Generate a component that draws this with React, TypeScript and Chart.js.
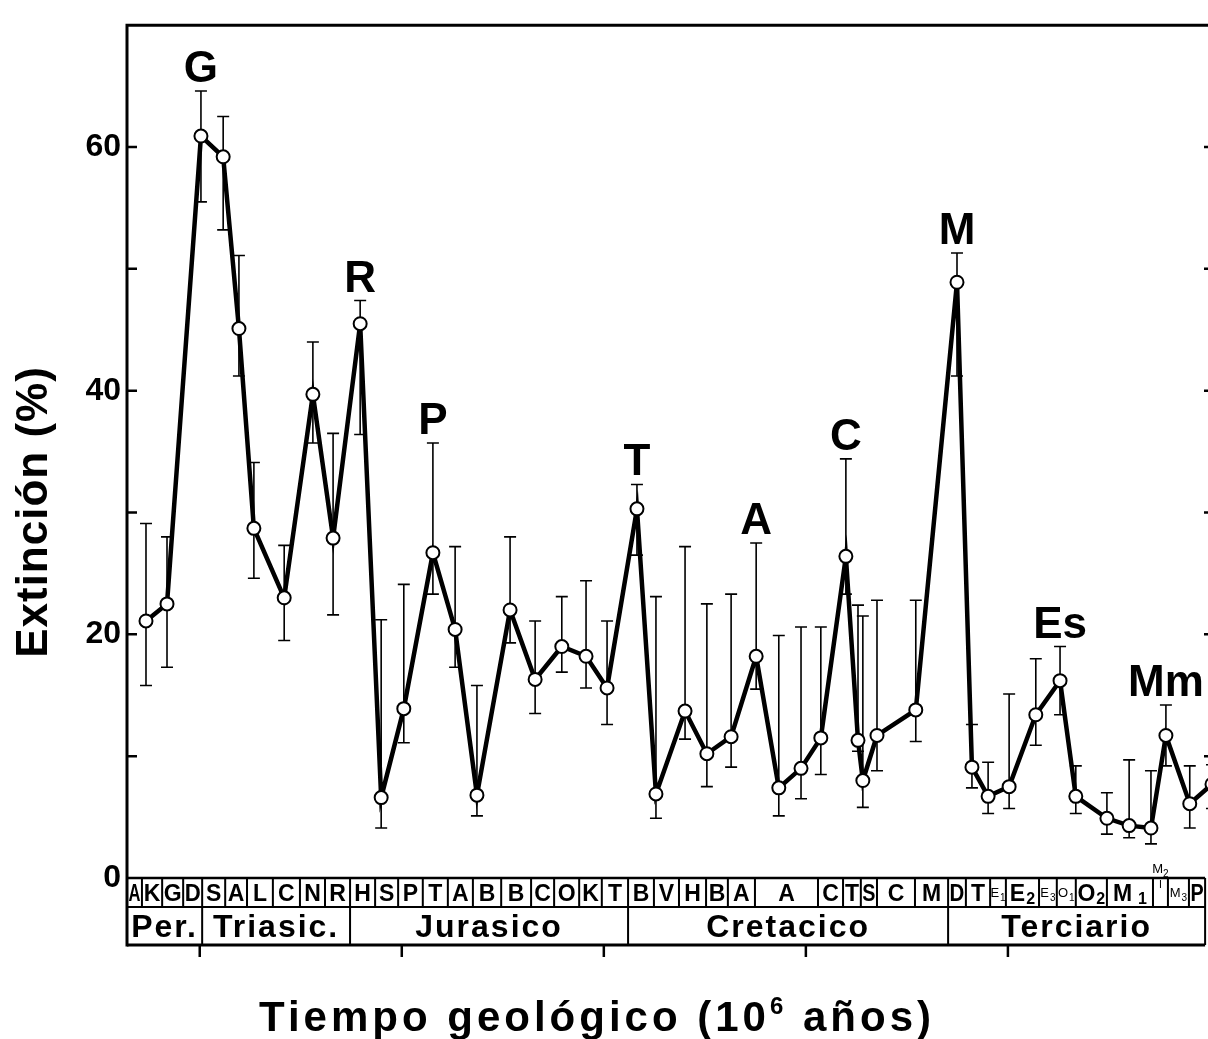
import React, { useEffect, useRef } from "react";
import { Chart, registerables } from "chart.js";

Chart.register(...registerables);

const FONT = '"Liberation Sans", Arial, Helvetica, sans-serif';

// Edad (millones de años) de cada punto
const ageMa = [263.3, 258.1, 249.7, 244.2, 240.3, 236.6, 229.1, 222.0, 217.0, 210.3, 205.1, 199.5, 192.3, 186.8, 181.4, 173.2, 167.0, 160.4, 154.4, 149.2, 141.8, 137.1, 129.9, 124.5, 118.5, 112.3, 106.7, 101.2, 96.3, 90.1, 87.1, 85.9, 82.4, 72.8, 62.6, 58.9, 54.9, 49.7, 43.1, 37.1, 33.2, 25.5, 20.0, 14.6, 10.9, 5.0, -0.5];
// Extinción (%)
const extincion = [21.1, 22.5, 60.9, 59.2, 45.1, 28.7, 23.0, 39.7, 27.9, 45.5, 6.6, 13.9, 26.7, 20.4, 6.8, 22.0, 16.3, 19.0, 18.2, 15.6, 30.3, 6.9, 13.7, 10.2, 11.6, 18.2, 7.4, 9.0, 11.5, 26.4, 11.3, 8.0, 11.7, 13.8, 48.9, 9.1, 6.7, 7.5, 13.4, 16.2, 6.7, 4.9, 4.3, 4.1, 11.7, 6.1, 7.7];
const errAlto = [29.1, 28.0, 64.6, 62.5, 51.1, 34.1, 27.3, 44.0, 36.5, 47.4, 21.2, 24.1, 35.7, 27.2, 15.8, 28.0, 21.1, 23.1, 24.4, 21.1, 32.3, 23.1, 27.2, 22.5, 23.3, 27.5, 19.9, 20.6, 20.6, 34.4, 22.4, 21.5, 22.8, 22.8, 51.3, 12.6, 9.5, 15.1, 18.0, 19.0, 9.2, 7.0, 9.7, 8.8, 14.2, 9.2, 9.3];
const errBajo = [15.8, 17.3, 55.5, 53.2, 41.2, 24.6, 19.5, 35.7, 21.6, 36.4, 4.1, 11.1, 23.3, 17.3, 5.1, 19.3, 13.5, 16.9, 15.6, 12.6, 26.5, 4.9, 11.4, 7.5, 9.1, 15.5, 5.1, 6.5, 8.5, 23.3, 10.4, 5.8, 8.8, 11.2, 41.2, 7.4, 5.3, 5.7, 10.9, 13.4, 5.3, 3.6, 3.3, 2.8, 9.2, 4.1, 5.7];

// Picos señalados
const peakIndex = [2, 9, 12, 20, 25, 29, 34, 39, 44];
const peakText = ["G", "R", "P", "T", "A", "C", "M", "Es", "Mm"];

// Pisos (límites en Ma) y sus letras
const stageBounds = [268, 264.3, 259.3, 254.1, 249.4, 243.7, 238.3, 231.9, 225.2, 219.0, 212.8, 206.6, 200.9, 194.8, 188.6, 182.4, 175.4, 168.0, 162.3, 156.1, 150.5, 144.0, 137.6, 131.4, 124.7, 119.3, 112.6, 97.0, 90.8, 86.4, 82.4, 73.0, 64.8, 60.4, 54.4, 50.5, 42.3, 37.9, 33.2, 25.5, 14.1, 10.4, 5.2, 1.2];
const stageLabels = ["A", "K", "G", "D", "S", "A", "L", "C", "N", "R", "H", "S", "P", "T", "A", "B", "B", "C", "O", "K", "T", "B", "V", "H", "B", "A", "A", "C", "T", "S", "C", "M", "D", "T", "E1", "E2", "E3", "O1", "O2", "M1", "M2", "M3", "P"];

// Periodos
const periodBounds = [268, 249.4, 212.8, 144.0, 64.8, 1.2];
const periodLabels = ["Per.", "Triasic.", "Jurasico", "Cretacico", "Terciario"];

// Marcas del eje de tiempo
const timeTicks = [250, 200, 150, 100, 50];
const yTickValues = [0, 10, 20, 30, 40, 50, 60];
const yLabelled = [0, 20, 40, 60];

function drawStageLabel(ctx: CanvasRenderingContext2D, label: string, x0: number, x1: number, yBase: number, rowTop: number) {
  const w = x1 - x0;
  const cx = (x0 + x1) / 2;
  const letter = label[0];
  const sub = label.slice(1);
  ctx.textBaseline = "alphabetic";
  ctx.textAlign = "left";
  if (!sub) {
    ctx.font = `bold 23px ${FONT}`;
    ctx.textAlign = "center";
    ctx.fillText(letter, cx, yBase, Math.max(w - 3, 6));
    return;
  }
  if (w < 15.2) {
    // etiqueta encima de la casilla
    ctx.font = `13px ${FONT}`;
    const w1 = ctx.measureText(letter).width;
    ctx.font = `10px ${FONT}`;
    const w2 = ctx.measureText(sub).width;
    const sx = cx - (w1 + w2) / 2;
    ctx.font = `13px ${FONT}`;
    ctx.fillText(letter, sx, rowTop - 5);
    ctx.font = `10px ${FONT}`;
    ctx.fillText(sub, sx + w1, rowTop - 1);
    ctx.save();
    ctx.lineWidth = 1;
    ctx.beginPath();
    ctx.moveTo(cx, rowTop + 2);
    ctx.lineTo(cx, rowTop + 10);
    ctx.stroke();
    ctx.restore();
    return;
  }
  const big = w >= 24;
  const f1 = big ? 23 : 13;
  const f2 = big ? 16 : 10;
  const gap = label === "M1" ? 6 : 1;
  ctx.font = `${big ? "bold " : ""}${f1}px ${FONT}`;
  const w1 = ctx.measureText(letter).width;
  ctx.font = `${f2}px ${FONT}`;
  const w2 = ctx.measureText(sub).width;
  const sx = cx - (w1 + gap + w2) / 2;
  ctx.font = `${big ? "bold " : ""}${f1}px ${FONT}`;
  ctx.fillText(letter, sx, big ? yBase : yBase - 4);
  ctx.font = `${big ? "bold " : ""}${f2}px ${FONT}`;
  ctx.fillText(sub, sx + w1 + gap, big ? yBase + 3 : yBase);
}

const decorPlugin = {
  id: "decor",
  beforeDatasetsDraw(chart: any) {
    const { ctx } = chart;
    const x = chart.scales.x;
    const y = chart.scales.y;
    ctx.save();
    ctx.strokeStyle = "#000";
    ctx.lineWidth = 1.6;
    ageMa.forEach((a, i) => {
      const px = x.getPixelForValue(a);
      const yt = y.getPixelForValue(errAlto[i]);
      const yb = y.getPixelForValue(errBajo[i]);
      ctx.beginPath();
      ctx.moveTo(px, yt);
      ctx.lineTo(px, yb);
      ctx.moveTo(px - 6, yt);
      ctx.lineTo(px + 6, yt);
      ctx.moveTo(px - 6, yb);
      ctx.lineTo(px + 6, yb);
      ctx.stroke();
    });
    ctx.restore();
  },
  afterDatasetsDraw(chart: any) {
    const { ctx } = chart;
    const x = chart.scales.x;
    const y = chart.scales.y;
    ctx.save();
    ctx.fillStyle = "#000";
    ctx.font = `bold 44px ${FONT}`;
    ctx.textAlign = "center";
    ctx.textBaseline = "alphabetic";
    peakIndex.forEach((idx, k) => {
      const px = x.getPixelForValue(ageMa[idx]);
      const py = y.getPixelForValue(errAlto[idx]) - 9;
      ctx.fillText(peakText[k], px, py);
    });
    ctx.restore();
  },
  afterDraw(chart: any) {
    const { ctx, chartArea: area } = chart;
    const x = chart.scales.x;
    const y = chart.scales.y;
    const row1Top = area.bottom;
    const row1Bottom = area.bottom + 29;
    const row2Bottom = area.bottom + 67;
    const rowEnd = x.getPixelForValue(stageBounds[stageBounds.length - 1]);
    ctx.save();
    ctx.strokeStyle = "#000";
    ctx.fillStyle = "#000";
    ctx.lineCap = "butt";

    // marco
    ctx.lineWidth = 3;
    ctx.beginPath();
    ctx.moveTo(area.left, area.top);
    ctx.lineTo(area.left, row2Bottom + 1.5);
    ctx.moveTo(area.left - 1.5, area.top);
    ctx.lineTo(area.right, area.top);
    ctx.moveTo(area.right, area.top);
    ctx.lineTo(area.right, row2Bottom);
    ctx.stroke();

    // marcas del eje Y hacia dentro
    ctx.lineWidth = 2.5;
    ctx.beginPath();
    yTickValues.forEach((v) => {
      if (v === 0) return;
      const py = y.getPixelForValue(v);
      ctx.moveTo(area.left, py);
      ctx.lineTo(area.left + 10, py);
      ctx.moveTo(area.right - 10, py);
      ctx.lineTo(area.right, py);
    });
    ctx.stroke();

    // filas de pisos y periodos
    ctx.lineWidth = 2.5;
    ctx.beginPath();
    ctx.moveTo(area.left, row1Top);
    ctx.lineTo(rowEnd, row1Top);
    ctx.stroke();
    ctx.lineWidth = 2;
    ctx.beginPath();
    ctx.moveTo(area.left, row1Bottom);
    ctx.lineTo(rowEnd, row1Bottom);
    ctx.stroke();
    ctx.lineWidth = 3;
    ctx.beginPath();
    ctx.moveTo(area.left, row2Bottom);
    ctx.lineTo(rowEnd, row2Bottom);
    ctx.stroke();

    ctx.lineWidth = 2;
    ctx.beginPath();
    stageBounds.forEach((b) => {
      const px = x.getPixelForValue(b);
      ctx.moveTo(px, row1Top);
      ctx.lineTo(px, row1Bottom);
    });
    periodBounds.forEach((b) => {
      const px = x.getPixelForValue(b);
      ctx.moveTo(px, row1Bottom);
      ctx.lineTo(px, row2Bottom);
    });
    ctx.stroke();

    // marcas del eje de tiempo
    ctx.lineWidth = 2.5;
    ctx.beginPath();
    timeTicks.forEach((t) => {
      const px = x.getPixelForValue(t);
      ctx.moveTo(px, row2Bottom);
      ctx.lineTo(px, row2Bottom + 12);
    });
    ctx.stroke();

    // letras de pisos
    stageLabels.forEach((lab, i) => {
      const x0 = x.getPixelForValue(stageBounds[i]);
      const x1 = x.getPixelForValue(stageBounds[i + 1]);
      drawStageLabel(ctx, lab, x0, x1, row1Bottom - 6, row1Top);
    });

    // periodos
    ctx.font = `bold 32px ${FONT}`;
    (ctx as any).letterSpacing = "2px";
    ctx.textAlign = "center";
    ctx.textBaseline = "alphabetic";
    periodLabels.forEach((lab, i) => {
      const x0 = x.getPixelForValue(periodBounds[i]);
      const x1 = x.getPixelForValue(periodBounds[i + 1]);
      ctx.fillText(lab, (x0 + x1) / 2, row2Bottom - 8);
    });
    (ctx as any).letterSpacing = "0px";

    // título eje Y
    ctx.save();
    ctx.translate(35, 512);
    ctx.rotate(-Math.PI / 2);
    ctx.font = `bold 44px ${FONT}`;
    (ctx as any).letterSpacing = "1px";
    ctx.textAlign = "center";
    ctx.textBaseline = "middle";
    ctx.fillText("Extinción (%)", 0, 0);
    ctx.restore();

    // título eje X
    (ctx as any).letterSpacing = "4px";
    ctx.textAlign = "left";
    ctx.textBaseline = "alphabetic";
    const p1 = "Tiempo geológico (10";
    const p2 = "6";
    const p3 = " años)";
    ctx.font = `bold 42px ${FONT}`;
    const w1 = ctx.measureText(p1).width;
    const w3 = ctx.measureText(p3).width;
    ctx.font = `bold 24px ${FONT}`;
    const w2 = ctx.measureText(p2).width;
    const total = w1 + w2 + w3;
    const sx = 597 - total / 2;
    const base = 1031;
    ctx.font = `bold 42px ${FONT}`;
    ctx.fillText(p1, sx, base);
    ctx.font = `bold 24px ${FONT}`;
    ctx.fillText(p2, sx + w1, base - 17);
    ctx.font = `bold 42px ${FONT}`;
    ctx.fillText(p3, sx + w1 + w2, base);
    (ctx as any).letterSpacing = "0px";
    ctx.restore();
  },
};

export default function App() {
  const ref = useRef<HTMLCanvasElement | null>(null);

  useEffect(() => {
    document.documentElement.style.overflow = "hidden";
    const canvas = ref.current;
    if (!canvas) return;
    const chart = new Chart(canvas, {
      type: "line",
      data: {
        datasets: [
          {
            data: ageMa.map((a, i) => ({ x: a, y: extincion[i] })),
            borderColor: "#000",
            borderWidth: 4.5,
            pointRadius: 6.5,
            pointBackgroundColor: "#fff",
            pointBorderColor: "#000",
            pointBorderWidth: 2,
            tension: 0,
            fill: false,
          },
        ],
      },
      options: {
        responsive: false,
        animation: false,
        devicePixelRatio: 1,
        layout: { padding: { left: 0, top: 14, right: 16, bottom: 161 } },
        plugins: { legend: { display: false }, tooltip: { enabled: false } },
        scales: {
          x: { type: "linear", reverse: true, min: -1, max: 268, display: false },
          y: {
            min: 0,
            max: 70,
            afterBuildTicks: (s: any) => {
              s.ticks = yTickValues.map((v) => ({ value: v }));
            },
            afterFit: (s: any) => {
              s.width = 127;
            },
            ticks: {
              color: "#000",
              padding: 6,
              font: { size: 32, weight: "bold", family: FONT },
              callback: (v: any) => (yLabelled.includes(Number(v)) ? String(v) : ""),
            },
            grid: { display: false, drawTicks: false },
            border: { display: false },
          },
        },
      } as any,
      plugins: [decorPlugin],
    });
    return () => chart.destroy();
  }, []);

  return (
    <div style={{ position: "absolute", left: 0, top: 0, width: 1208, height: 1039, overflow: "hidden", background: "#fff" }}>
      <canvas ref={ref} width={1230} height={1039} style={{ display: "block", width: 1230, height: 1039 }} />
    </div>
  );
}
